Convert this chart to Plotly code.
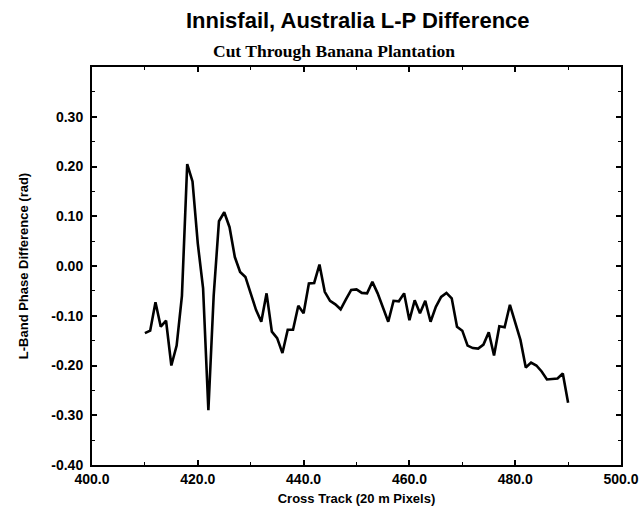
import plotly.graph_objects as go

# Data
cross_track = list(range(410, 491))
phase_diff = [
    -0.135, -0.130, -0.073, -0.122, -0.110, -0.200, -0.160, -0.060, 0.205, 0.170,
    0.045, -0.045, -0.290, -0.060, 0.090, 0.108, 0.078, 0.018, -0.012, -0.022,
    -0.055, -0.088, -0.112, -0.055, -0.132, -0.145, -0.175, -0.128, -0.128, -0.080,
    -0.095, -0.035, -0.034, 0.003, -0.052, -0.070, -0.077, -0.087, -0.067, -0.048,
    -0.047, -0.054, -0.055, -0.032, -0.055, -0.082, -0.112, -0.070, -0.071, -0.055,
    -0.109, -0.069, -0.095, -0.070, -0.112, -0.082, -0.062, -0.054, -0.065, -0.122,
    -0.130, -0.160, -0.165, -0.166, -0.158, -0.133, -0.180, -0.121, -0.123, -0.078,
    -0.112, -0.149, -0.204, -0.194, -0.200, -0.212, -0.228, -0.227, -0.226, -0.216,
    -0.275,
]

x_tick_vals = [400, 420, 440, 460, 480, 500]
x_tick_text = ["400.0", "420.0", "440.0", "460.0", "480.0", "500.0"]
y_tick_vals = [-0.4, -0.3, -0.2, -0.1, 0.0, 0.1, 0.2, 0.3, 0.4]
y_tick_text = ["-0.40", "-0.30", "-0.20", "-0.10", "0.00", "0.10", "0.20", "0.30", ""]

title_text = "Innisfail, Australia L-P Difference"
subtitle_text = "Cut Through Banana Plantation"
x_title = "Cross Track (20 m Pixels)"
y_title = "L-Band Phase Difference (rad)"

fig = go.Figure()
fig.add_trace(go.Scatter(
    x=cross_track, y=phase_diff, mode="lines",
    line=dict(color="black", width=2.6),
    showlegend=False,
))

sans = "Liberation Sans, Arial, sans-serif"
axis_common = dict(
    showline=True, linecolor="black", linewidth=2, mirror="allticks",
    ticks="inside", ticklen=5, tickwidth=1.5, tickcolor="black",
    showgrid=False, zeroline=False, automargin=False,
    tickfont=dict(family=sans, size=14, color="black", weight="bold"),
)

fig.update_xaxes(
    range=[400, 500], tickvals=x_tick_vals, ticktext=x_tick_text,
    minor=dict(ticks="inside", ticklen=3, tickwidth=1, tickcolor="black", dtick=10, showgrid=False),
    title=dict(text=x_title, font=dict(family=sans, size=13, color="black", weight="bold"), standoff=8),
    **axis_common,
)
fig.update_yaxes(
    range=[-0.4, 0.4], tickvals=y_tick_vals, ticktext=y_tick_text,
    minor=dict(ticks="inside", ticklen=3, tickwidth=1, tickcolor="black", dtick=0.05, showgrid=False),
    title=dict(text=y_title, font=dict(family=sans, size=13, color="black", weight="bold"), standoff=20),
    ticklabelstandoff=4,
    **axis_common,
)

fig.update_layout(
    width=643, height=513,
    margin=dict(l=92, r=22, t=67, b=48, autoexpand=False),
    paper_bgcolor="white", plot_bgcolor="white",
    annotations=[
        dict(text=title_text, xref="paper", yref="paper", x=0.503, y=1.118,
             xanchor="center", yanchor="middle", showarrow=False,
             font=dict(family=sans, size=22, color="black", weight="bold")),
        dict(text=subtitle_text, xref="paper", yref="paper", x=0.457, y=1.040,
             xanchor="center", yanchor="middle", showarrow=False,
             font=dict(family="Liberation Serif, Times New Roman, serif", size=17.5, color="black", weight="bold")),
    ],
)

fig.write_html(
    "out.html",
    config={"displayModeBar": False},
    post_script="document.body.style.margin='0px';document.body.style.overflow='hidden';",
)
